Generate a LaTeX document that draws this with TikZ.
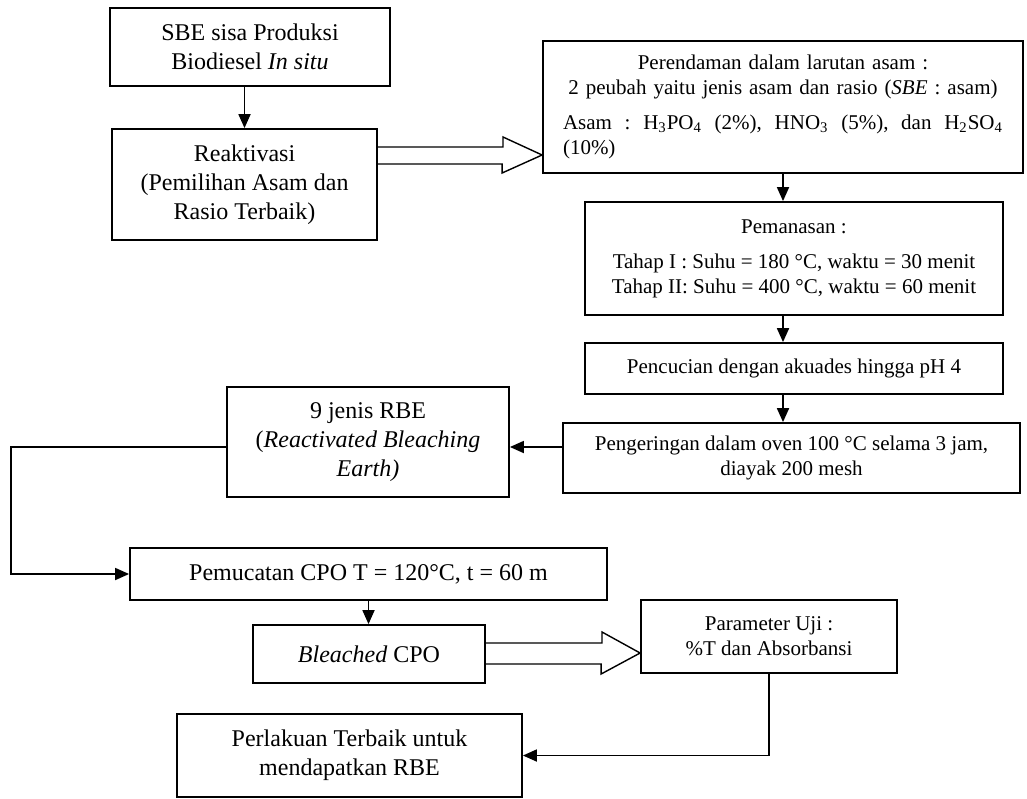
\documentclass[tikz,border=0pt]{standalone}
\usepackage{fontspec}
\setmainfont{Liberation Serif}
\usetikzlibrary{arrows.meta}
\def\bigtxt{\fontsize{12}{14.5}\selectfont}
\def\smalltxt{\fontsize{10.5}{12.5}\selectfont}
\tikzset{
	box/.style={draw, line width=0.9pt, inner sep=2pt, align=center, font=\bigtxt},
	smallbox/.style={box, font=\smalltxt},
	link/.style={line width=0.9pt, -{Triangle[length=7pt, width=6pt]}},
	fatarrow/.style={line width=0.7pt, line join=miter}
}

\begin{document}
\begin{tikzpicture}[x=0.5pt, y=-0.5pt]
		%%%%% START %%%%%
		\useasboundingbox (0, 0) rectangle (1027, 798);
		
		\node[box, minimum width=140pt, minimum height=39pt] (sbe) at (250, 47) {SBE sisa Produksi\\Biodiesel \textit{In situ}};
		\node[box, minimum width=132.5pt, minimum height=55.5pt] (reak) at (244.5, 184.5) {Reaktivasi\\(Pemilihan Asam dan\\Rasio Terbaik)};
		
		\node[draw, line width=0.9pt, inner sep=0pt, font=\smalltxt, minimum width=240pt, minimum height=66pt, text width=220pt] (rendam) at (783, 107) {\parindent=0pt {\centering Perendaman dalam larutan asam :\\ 2 peubah yaitu jenis asam dan rasio (\textit{SBE} : asam)\par}\vspace{5pt}\hbox to 220pt{Asam\hfill:\hfill H\textsubscript{3}PO\textsubscript{4}\hfill(2\%),\hfill HNO\textsubscript{3}\hfill(5\%),\hfill dan\hfill H\textsubscript{2}SO\textsubscript{4}}\par (10\%)};
		\node[smallbox, minimum width=209pt, minimum height=56.5pt] (panas) at (794, 258.5) {Pemanasan :\\[5pt]Tahap I : Suhu = 180 °C, waktu = 30 menit\\Tahap II: Suhu = 400 °C, waktu = 60 menit};
		\node[smallbox, minimum width=209pt, minimum height=25.5pt] (cuci) at (794, 368.5) {Pencucian dengan akuades hingga pH 4};
		\node[smallbox, minimum width=228.5pt, minimum height=35pt] (kering) at (791.5, 458) {Pengeringan dalam oven 100 °C selama 3 jam,\\diayak 200 mesh};
		
		\node[box, minimum width=141pt, minimum height=55pt] (rbe) at (368, 442) {9 jenis RBE\\(\textit{Reactivated Bleaching}\\\textit{Earth)}};
		\node[box, minimum width=238.5pt, minimum height=26pt] (pucat) at (368.5, 574) {Pemucatan CPO T = 120°C, t = 60 m};
		\node[box, minimum width=116pt, minimum height=29pt] (bleach) at (369, 654) {\textit{Bleached} CPO};
		\node[smallbox, minimum width=128pt, minimum height=36.5pt] (param) at (769, 636.5) {Parameter Uji :\\\%T dan Absorbansi};
		\node[box, minimum width=172.5pt, minimum height=41.5pt] (terbaik) at (349.5, 755.5) {Perlakuan Terbaik untuk\\mendapatkan RBE};
		
		\draw[link] (reak.north |- sbe.south) -- (reak.north);
		\draw[link] (rendam.south) -- (rendam.south |- panas.north);
		\draw[link] (rendam.south |- panas.south) -- (rendam.south |- cuci.north);
		\draw[link] (rendam.south |- cuci.south) -- (rendam.south |- kering.north);
		\draw[link] (kering.west |- 0, 447) -- (rbe.east |- 0, 447);
		\draw[link] (rbe.west |- 0, 447) -- (11, 447) |- (pucat.west);
		\draw[link] (pucat.south) -- (pucat.south |- bleach.north);
		\draw[link] (param.south) |- (terbaik.east);
		
		\draw[fatarrow] (reak.east |- 0, 147) -- (503, 147) -- ++(0, -10) -- (rendam.west |- 0, 155) -- ++(-40, 18) -- ++(0, -9) -- (reak.east |- 0, 164);
		\draw[fatarrow] (bleach.east |- 0, 643) -- (602, 643) -- ++(0, -11) -- (param.west |- 0, 653) -- ++(-39, 21) -- ++(0, -10) -- (bleach.east |- 0, 664);
		
		%%%%% END %%%%%
	\end{tikzpicture}
\end{document}
